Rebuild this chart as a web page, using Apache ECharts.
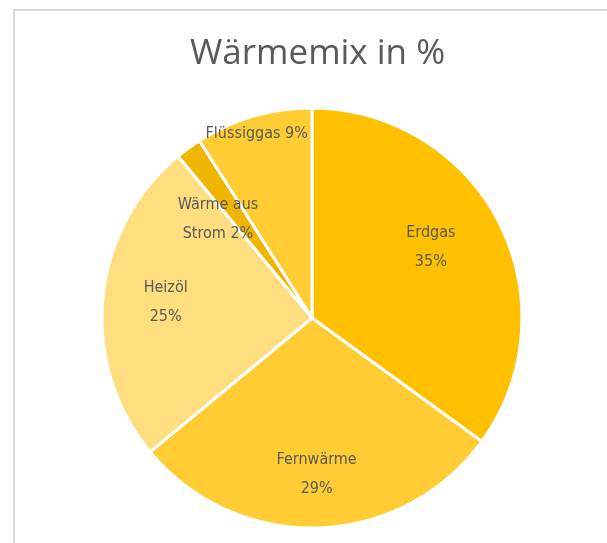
<!DOCTYPE html>
<html>
<head>
<meta charset="utf-8">
<script src="https://cdn.jsdelivr.net/npm/echarts@6/dist/echarts.min.js"></script>
<style>
  html, body { margin: 0; padding: 0; background: #fff; }
  #chart { width: 607px; height: 543px; }
</style>
</head>
<body>
<div id="chart"></div>
<script>
// Wärmemix in % - Anteile der Energieträger
var categories = ['Erdgas', 'Fernwärme', 'Heizöl', 'Wärme aus\nStrom', 'Flüssiggas'];
var shares = [35, 29, 25, 2, 9];
var colors = ['#FFC000', '#FFCD33', '#FFDE80', '#EFB500', '#FFCC33'];
// Excel puts a few labels off the middle ring
var labelShift = [[-13, -3], [0, 8], [1, -2], [-7, 21], [-14, -42]];
var labelJoin = ['\n', '\n', '\n', ' ', ' '];

var labelFont = '"Liberation Sans Narrow", "DejaVu Sans Condensed", "Roboto Condensed", "Noto Sans", sans-serif';

var pieData = categories.map(function (name, i) {
    return { name: name, value: shares[i], itemStyle: { color: colors[i] } };
});
var labelData = categories.map(function (name, i) {
    return {
        name: name,
        value: shares[i],
        label: {
            formatter: name + labelJoin[i] + shares[i] + '%',
            offset: labelShift[i]
        }
    };
});

var myChart = echarts.init(document.getElementById('chart'));
var option = {
    animation: false,
    title: {
        text: 'Wärmemix in %',
        left: 185,
        top: 32,
        textStyle: {
            fontFamily: '"Open Sans", "Noto Sans", sans-serif',
            fontWeight: 'normal',
            fontSize: 35,
            color: '#595959'
        }
    },
    graphic: [{
        type: 'rect',
        shape: { x: 14, y: 10, width: 600, height: 540 },
        style: { fill: 'none', stroke: '#d9d9d9', lineWidth: 2 },
        silent: true
    }],
    series: [{
        type: 'pie',
        center: [312, 318],
        radius: [0, 210],
        startAngle: 90,
        clockwise: true,
        label: { show: false },
        labelLine: { show: false },
        emphasis: { disabled: true },
        itemStyle: { borderColor: '#fff', borderWidth: 3 },
        data: pieData
    }, {
        // transparent ring only to carry the labels
        type: 'pie',
        center: [312, 318],
        radius: [80, 210],
        startAngle: 90,
        clockwise: true,
        silent: true,
        emphasis: { disabled: true },
        itemStyle: { color: 'rgba(0,0,0,0)' },
        labelLine: { show: false },
        label: {
            show: true,
            position: 'inside',
            fontFamily: labelFont,
            fontSize: 16,
            lineHeight: 29,
            color: '#595959'
        },
        data: labelData
    }]
};
myChart.setOption(option);
</script>
</body>
</html>
